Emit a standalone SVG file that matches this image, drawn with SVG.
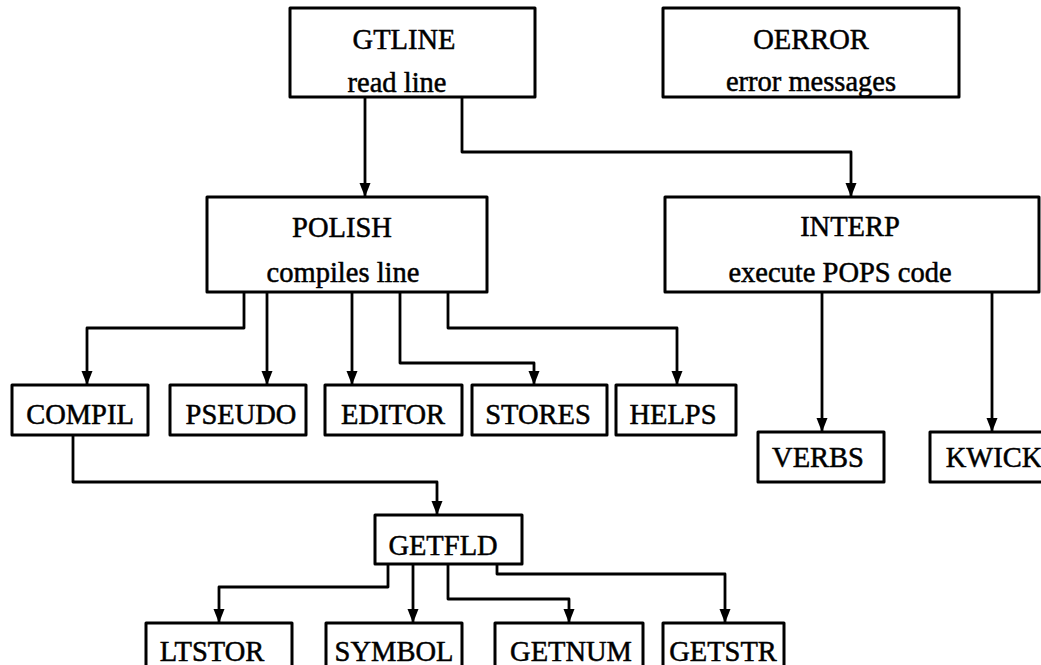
<svg xmlns="http://www.w3.org/2000/svg" width="1041" height="665" viewBox="0 0 1041 665">
<style>
.box{fill:#fff;stroke:#000;stroke-width:3;stroke-linejoin:round}
.lbl{font-family:"Liberation Serif","Times New Roman",serif;font-size:28.5px;fill:#000;stroke:#000;stroke-width:0.5;text-anchor:middle}
.con{fill:none;stroke:#000;stroke-width:2.8;stroke-linejoin:round;marker-end:url(#ah)}
</style>
<defs>
<marker id="ah" markerUnits="userSpaceOnUse" markerWidth="14" markerHeight="16" viewBox="0 0 14 16" refX="14" refY="5.5" orient="auto">
<path d="M0,0 L14,5.5 L0,11 Z" fill="#000"/>
</marker>
</defs>
<rect width="1041" height="665" fill="#fff"/>
<g id="connectors">
<path class="con" d="M365,97 V197"/>
<path class="con" d="M462,97 V152 H851 V197"/>
<path class="con" d="M244,292 V328 H87 V385"/>
<path class="con" d="M267,292 V385"/>
<path class="con" d="M352,292 V385"/>
<path class="con" d="M400,292 V363 H534 V385"/>
<path class="con" d="M448,292 V328 H677 V385"/>
<path class="con" d="M822,292 V432"/>
<path class="con" d="M992,292 V432"/>
<path class="con" d="M73,435 V482 H437 V515"/>
<path class="con" d="M388,564 V587 H219 V623"/>
<path class="con" d="M413,564 V623"/>
<path class="con" d="M448,564 V599 H569 V623"/>
<path class="con" d="M497,564 V574 H725 V623"/>
</g>
<g id="gtline"><rect class="box" x="290" y="8" width="245" height="89"/><text class="lbl" x="404" y="49">GTLINE</text><text class="lbl" x="397" y="92">read line</text></g>
<g id="oerror"><rect class="box" x="663" y="8" width="296" height="89"/><text class="lbl" x="811" y="49">OERROR</text><text class="lbl" x="811" y="91">error messages</text></g>
<g id="polish"><rect class="box" x="207" y="197" width="280" height="95"/><text class="lbl" x="342" y="237">POLISH</text><text class="lbl" x="343" y="282">compiles line</text></g>
<g id="interp"><rect class="box" x="665" y="197" width="374" height="95"/><text class="lbl" x="850" y="236">INTERP</text><text class="lbl" x="840" y="282">execute POPS code</text></g>
<g id="compil"><rect class="box" x="12" y="385" width="136" height="50"/><text class="lbl" x="80" y="424">COMPIL</text></g>
<g id="pseudo"><rect class="box" x="170" y="385" width="136" height="50"/><text class="lbl" x="241" y="424">PSEUDO</text></g>
<g id="editor"><rect class="box" x="325" y="385" width="137" height="50"/><text class="lbl" x="393" y="424">EDITOR</text></g>
<g id="stores"><rect class="box" x="472" y="385" width="135" height="50"/><text class="lbl" x="538" y="424">STORES</text></g>
<g id="helps"><rect class="box" x="616" y="385" width="120" height="50"/><text class="lbl" x="673" y="424">HELPS</text></g>
<g id="verbs"><rect class="box" x="758" y="432" width="126" height="50"/><text class="lbl" x="818" y="467">VERBS</text></g>
<g id="kwick"><rect class="box" x="930" y="432" width="130" height="50"/><text class="lbl" x="994" y="467">KWICK</text></g>
<g id="getfld"><rect class="box" x="375" y="515" width="147" height="49"/><text class="lbl" x="443" y="555">GETFLD</text></g>
<g id="ltstor"><rect class="box" x="146" y="623" width="146" height="60"/><text class="lbl" x="212" y="661">LTSTOR</text></g>
<g id="symbol"><rect class="box" x="326" y="623" width="136" height="60"/><text class="lbl" x="394" y="661">SYMBOL</text></g>
<g id="getnum"><rect class="box" x="495" y="623" width="148" height="60"/><text class="lbl" x="571" y="661">GETNUM</text></g>
<g id="getstr"><rect class="box" x="663" y="623" width="121" height="60"/><text class="lbl" x="723" y="661">GETSTR</text></g>
</svg>
